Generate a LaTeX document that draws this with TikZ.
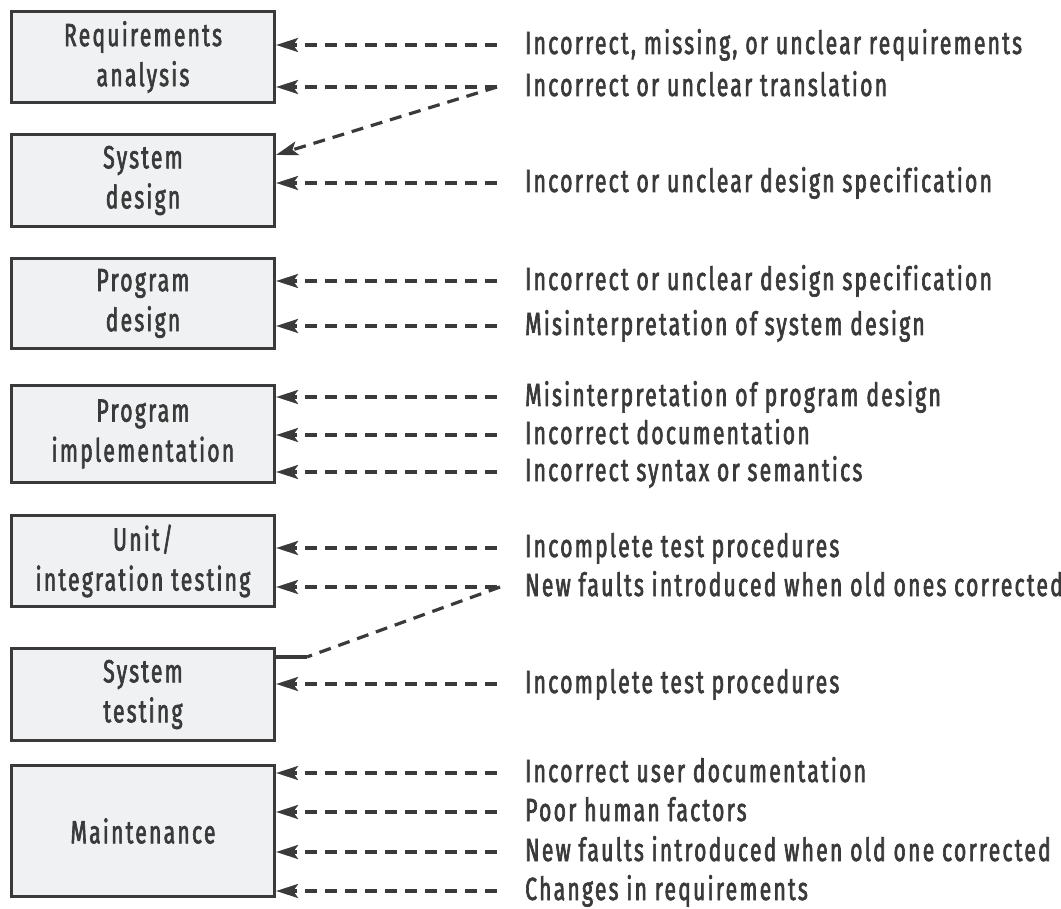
\documentclass[tikz,border=0pt]{standalone}
\usepackage{fontspec}
\setmainfont{Fira Sans}[FakeStretch=0.66, LetterSpace=7, FakeBold=2, Ligatures=NoCommon]
\usetikzlibrary{arrows.meta}
\definecolor{ink}{HTML}{3A3A3A}
\definecolor{boxfill}{HTML}{F0F1F3}
\begin{document}
\begin{tikzpicture}[x=1pt,y=-1pt,
  phase/.style={draw=ink, fill=boxfill, line width=3.2pt, minimum width=263pt,
    inner sep=0pt, align=center, text=ink, font=\fontsize{32}{40}\selectfont},
  cause/.style={anchor=west, inner sep=0pt, text=ink, text height=18pt, text depth=0pt,
    font=\fontsize{32}{36}\selectfont},
  faultline/.style={draw=ink, line width=3.2pt, dash pattern=on 12pt off 8pt},
  fault/.style={faultline, -{Stealth[length=22pt, width=14pt, inset=5pt]}}]
\useasboundingbox (0,0) rectangle (1061,909);

% life-cycle phases
\node[phase, minimum height=91pt] (ra) at (143,57)    {Requirements\\analysis};
\node[phase, minimum height=92pt] (sd) at (143,180.5) {System\\design};
\node[phase, minimum height=90pt] (pd) at (143,303.5) {Program\\design};
\node[phase, minimum height=97pt] (pi) at (143,434)   {Program\\implementation};
\node[phase, minimum height=91pt] (ut) at (143,561)   {Unit/\\integration testing};
\node[phase, minimum height=92pt] (st) at (143,694.5) {System\\testing};
\node[phase, minimum height=131pt] (mt) at (143,831)  {Maintenance};

% fault sources
\node[cause] (c1)  at (525,45)  {Incorrect, missing, or unclear requirements};
\node[cause] (c2)  at (525,87)  {Incorrect or unclear translation};
\node[cause] (c3)  at (525,183) {Incorrect or unclear design specification};
\node[cause] (c4)  at (525,281) {Incorrect or unclear design specification};
\node[cause] (c5)  at (525,326) {Misinterpretation of system design};
\node[cause] (c6)  at (525,397) {Misinterpretation of program design};
\node[cause] (c7)  at (525,435) {Incorrect documentation};
\node[cause] (c8)  at (525,472) {Incorrect syntax or semantics};
\node[cause] (c9)  at (525,548) {Incomplete test procedures};
\node[cause] (c10) at (525,587) {New faults introduced when old ones corrected};
\node[cause] (c11) at (525,684) {Incomplete test procedures};
\node[cause] (c12) at (525,773) {Incorrect user documentation};
\node[cause] (c13) at (525,812) {Poor human factors};
\node[cause] (c14) at (525,852) {New faults introduced when old one corrected};
\node[cause] (c15) at (525,891) {Changes in requirements};

% dashed arrows into the phases
\foreach \c/\p in {c1/ra, c2/ra, c3/sd, c4/pd, c5/pd, c6/pi, c7/pi, c8/pi,
                   c9/ut, c10/ut, c11/st, c12/mt, c13/mt, c14/mt, c15/mt}
  \draw[fault] ([xshift=-28pt]\c.west) -- (\p.east |- \c.west);

% faults that carry over into a later phase
\draw[fault] ([xshift=-28pt]c2.west) -- ([yshift=-22pt]sd.north east);
\coordinate (bend) at ([xshift=31pt,yshift=-10pt]st.north east);
\draw[faultline] ([xshift=-25pt]c10.west) -- (bend);
\draw[ink, line width=3.2pt] (bend) -- ([yshift=-10pt]st.north east);
\end{tikzpicture}
\end{document}
